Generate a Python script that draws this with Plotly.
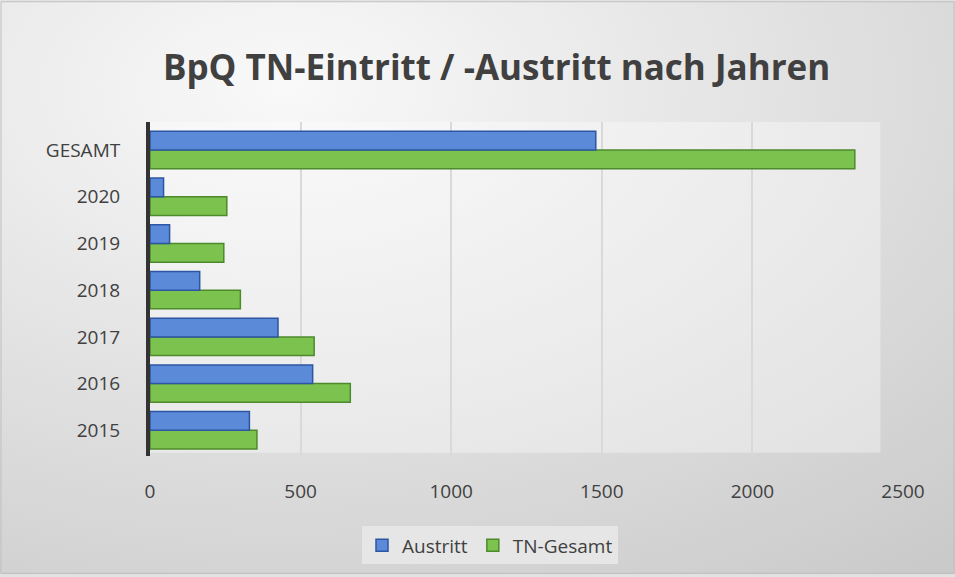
import base64
import plotly.graph_objects as go

# values
jahre = ['2015', '2016', '2017', '2018', '2019', '2020', 'GESAMT']
austritt = [330, 540, 425, 165, 65, 45, 1480]
tn_gesamt = [355, 665, 545, 300, 245, 255, 2340]
x_ticks = [0, 500, 1000, 1500, 2000, 2500]

W, H = 955, 577
ML, MR, MT, MB = 150, 52, 122, 119
pw, ph = W - ML - MR, H - MT - MB

grad = """<svg xmlns='http://www.w3.org/2000/svg' width='955' height='577'>
<defs><radialGradient id='g' cx='0.3' cy='0.15' r='1.1'>
<stop offset='0' stop-color='#f9f9f9'/><stop offset='1' stop-color='#c9c9c9'/>
</radialGradient></defs><rect width='955' height='577' fill='url(#g)'/></svg>"""
bg_src = 'data:image/svg+xml;base64,' + base64.b64encode(grad.encode()).decode()

fig = go.Figure()
# green first so the blue bar sits above it within each group
fig.add_trace(go.Bar(
    y=jahre, x=tn_gesamt, name='TN-Gesamt', orientation='h',
    marker=dict(color='#7cc24f', line=dict(color='#4d8a2c', width=1.5)),
))
fig.add_trace(go.Bar(
    y=jahre, x=austritt, name='Austritt', orientation='h',
    marker=dict(color='#5b8bd8', line=dict(color='#2d55a3', width=1.5)),
))

fig.update_layout(
    width=W, height=H,
    margin=dict(l=ML, r=MR, t=MT, b=MB),
    paper_bgcolor='#e2e2e2',
    plot_bgcolor='rgba(0,0,0,0)',
    barmode='group', bargap=0.2, bargroupgap=0,
    font=dict(family='Open Sans', size=19, color='#404040'),
    title=dict(text='<b>BpQ TN-Eintritt / -Austritt nach Jahren</b>',
               x=0.52, xanchor='center', y=1 - 68 / H, yanchor='middle',
               font=dict(size=35, color='#404040')),
    legend=dict(orientation='h', x=(490 - ML) / pw, xanchor='center',
                y=-(548 - MT - ph) / ph, yanchor='middle', traceorder='reversed',
                bgcolor='#e6e6e6', font=dict(size=19, color='#404040'),
                itemwidth=30),
    xaxis=dict(range=[0, 2500], tickvals=x_ticks, showgrid=True,
               gridcolor='#d9d9d9', gridwidth=1.5, zeroline=False,
               ticks='outside', ticklen=18, tickcolor='rgba(0,0,0,0)'),
    yaxis=dict(range=[-0.55, 6.6], showline=True, linecolor='#333333',
               linewidth=4, ticks='outside', ticklen=22,
               tickcolor='rgba(0,0,0,0)'),
    images=[dict(source=bg_src, xref='paper', yref='paper',
                 x=-ML / pw, y=1 + MT / ph, sizex=W / pw, sizey=H / ph,
                 xanchor='left', yanchor='top', sizing='stretch',
                 layer='below')],
    shapes=[
        # lighter back wall
        dict(type='rect', xref='paper', yref='paper', x0=0, x1=0.97,
             y0=0.01, y1=1, fillcolor='rgba(255,255,255,0.35)',
             line=dict(width=0), layer='below'),
        # outer chart border
        dict(type='rect', xref='paper', yref='paper',
             x0=-(ML - 1) / pw, x1=1 + (MR - 1) / pw,
             y0=-(MB - 1) / ph, y1=1 + (MT - 1) / ph,
             line=dict(color='#bfbfbf', width=1)),
    ],
)

# page has a default 8px body margin; drop it so the chart fills the window
fig.write_html('out.html', config={'displayModeBar': False},
               post_script="document.body.style.margin='0';")
